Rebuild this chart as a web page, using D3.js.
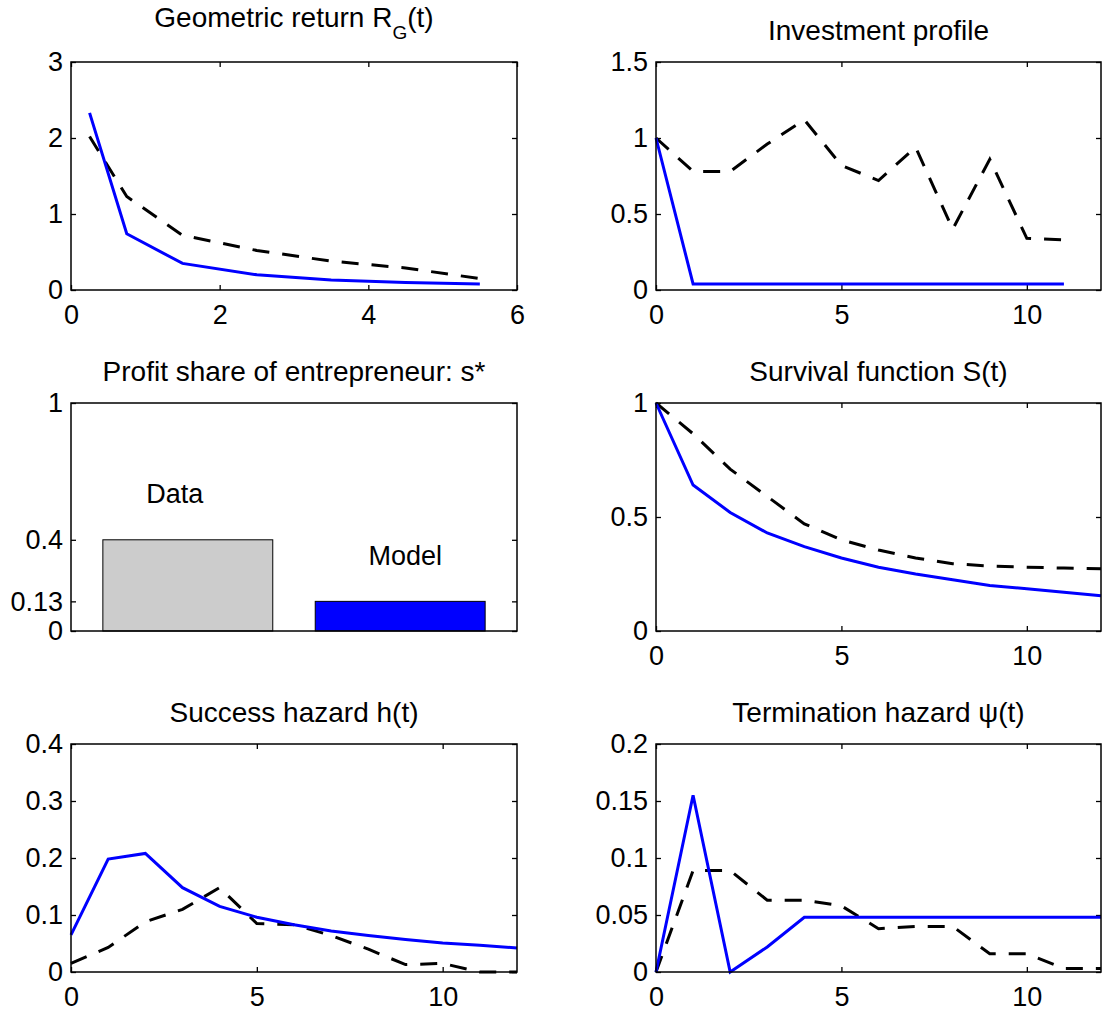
<!DOCTYPE html>
<html>
<head>
<meta charset="utf-8">
<script src="https://cdn.jsdelivr.net/npm/d3@7"></script>
<style>
  body { margin: 0; background: #fff; }
  svg text { font-family: "Liberation Sans", Arial, Helvetica, sans-serif; fill: #000; }
</style>
</head>
<body>
<svg id="chart" width="1105" height="1015"></svg>
<script>
// ---- data ----
const geoT = [0.25, 0.75, 1.5, 2.5, 3.5, 4.5, 5.5];
const geoModel = [2.33, 0.74, 0.35, 0.2, 0.13, 0.1, 0.08];
const geoData = [2.02, 1.23, 0.72, 0.52, 0.38, 0.29, 0.15];

const investT = [0, 1, 2, 3, 4, 5, 6, 7, 8, 9, 10, 11];
const investModel = [1, 0.04, 0.04, 0.04, 0.04, 0.04, 0.04, 0.04, 0.04, 0.04, 0.04, 0.04];
const investData = [1, 0.78, 0.78, 0.96, 1.12, 0.82, 0.72, 0.94, 0.4, 0.86, 0.34, 0.33];

const shareLabels = ["Data", "Model"];
const shareValues = [0.4, 0.13];

const years = [0, 1, 2, 3, 4, 5, 6, 7, 8, 9, 10, 11, 12];
const survModel = [1, 0.64, 0.52, 0.43, 0.37, 0.32, 0.28, 0.25, 0.225, 0.2, 0.185, 0.17, 0.155];
const survData = [1, 0.865, 0.71, 0.59, 0.47, 0.4, 0.355, 0.32, 0.295, 0.285, 0.28, 0.276, 0.273];

const successModel = [0.065, 0.198, 0.208, 0.148, 0.115, 0.096, 0.083, 0.072, 0.064, 0.057, 0.051, 0.047, 0.042];
const successData = [0.015, 0.043, 0.088, 0.11, 0.148, 0.085, 0.083, 0.064, 0.04, 0.013, 0.015, 0, 0];

const termModel = [0, 0.155, 0, 0.022, 0.048, 0.048, 0.048, 0.048, 0.048, 0.048, 0.048, 0.048, 0.048];
const termData = [0, 0.089, 0.089, 0.063, 0.063, 0.058, 0.038, 0.04, 0.04, 0.016, 0.016, 0.003, 0.003];

// ---- layout ----
const svg = d3.select("#chart");
const colX = [71, 656];
const colW = [446, 445];
const rowY = [62, 403, 744];
const plotH = 228;
const tick = 5;
const tickFont = 27;
const titleFont = 28;

svg.append("rect").attr("width", 1105).attr("height", 1015).attr("fill", "#fff");

function makePanel(col, row, opts) {
  const w = colW[col], h = plotH;
  const g = svg.append("g").attr("transform", "translate(" + colX[col] + "," + rowY[row] + ")");
  const x = d3.scaleLinear().domain(opts.xDomain).range([0, w]);
  const y = d3.scaleLinear().domain(opts.yDomain).range([h, 0]);

  // y ticks left (labels) and right (marks only)
  const yl = g.append("g").call(
    d3.axisLeft(y).tickValues(opts.yTicks).tickSize(-tick).tickSizeOuter(0).tickPadding(8)
      .tickFormat((d) => String(d))
  );
  const yr = g.append("g").attr("transform", "translate(" + w + ",0)").call(
    d3.axisRight(y).tickValues(opts.yTicks).tickSize(-tick).tickSizeOuter(0).tickFormat("")
  );
  const axes = [yl, yr];

  if (opts.xTicks) {
    const xb = g.append("g").attr("transform", "translate(0," + h + ")").call(
      d3.axisBottom(x).tickValues(opts.xTicks).tickSize(-tick).tickSizeOuter(0).tickPadding(15)
        .tickFormat((d) => String(d))
    );
    const xt = g.append("g").call(
      d3.axisTop(x).tickValues(opts.xTicks).tickSize(-tick).tickSizeOuter(0).tickFormat("")
    );
    axes.push(xb, xt);
  }
  axes.forEach((a) => {
    a.select(".domain").remove();
    a.selectAll(".tick line").attr("stroke", "#000").attr("stroke-width", 1.3);
    a.selectAll("text").attr("font-size", tickFont).attr("fill", "#000")
      .attr("font-family", '"Liberation Sans", Arial, sans-serif');
  });

  // title
  const t = g.append("text")
    .attr("x", w / 2)
    .attr("y", opts.sub ? -35 : -22)
    .attr("text-anchor", "middle")
    .attr("font-size", titleFont);
  t.append("tspan").text(opts.title);
  if (opts.sub) {
    t.append("tspan").attr("font-size", 19).attr("dy", 12).text(opts.sub);
    t.append("tspan").attr("dy", -12).text(opts.after);
  }

  return { g, x, y, w, h };
}

function drawLine(p, xs, ys, dashed) {
  const line = d3.line().x((d) => p.x(d[0])).y((d) => p.y(d[1]));
  p.g.append("path")
    .datum(xs.map((v, i) => [v, ys[i]]))
    .attr("d", line)
    .attr("fill", "none")
    .attr("stroke", dashed ? "#000" : "#0000ff")
    .attr("stroke-width", 3)
    .attr("stroke-dasharray", dashed ? "17,13" : null);
}

function drawBox(p) {
  p.g.append("rect")
    .attr("width", p.w).attr("height", p.h)
    .attr("fill", "none").attr("stroke", "#000").attr("stroke-width", 1.5);
}

// Geometric return
let p = makePanel(0, 0, {
  xDomain: [0, 6], yDomain: [0, 3], xTicks: [0, 2, 4, 6], yTicks: [0, 1, 2, 3],
  title: "Geometric return R", sub: "G", after: "(t)"
});
drawLine(p, geoT, geoData, true);
drawLine(p, geoT, geoModel, false);
drawBox(p);

// Investment profile
p = makePanel(1, 0, {
  xDomain: [0, 12], yDomain: [0, 1.5], xTicks: [0, 5, 10], yTicks: [0, 0.5, 1, 1.5],
  title: "Investment profile"
});
drawLine(p, investT, investData, true);
drawLine(p, investT, investModel, false);
drawBox(p);

// Profit share (bars)
p = makePanel(0, 1, {
  xDomain: [0.45, 2.55], yDomain: [0, 1], xTicks: null, yTicks: [0, 0.13, 0.4, 1],
  title: "Profit share of entrepreneur: s*"
});
const barFill = ["#cccccc", "#0000ff"];
const barW = 0.8;
p.g.selectAll("rect.bar")
  .data(shareValues)
  .enter()
  .append("rect")
  .attr("class", "bar")
  .attr("x", (d, i) => p.x(i + 1 - barW / 2))
  .attr("width", p.x(barW) - p.x(0))
  .attr("y", (d) => p.y(d))
  .attr("height", (d) => p.y(0) - p.y(d))
  .attr("fill", (d, i) => barFill[i])
  .attr("stroke", "#000")
  .attr("stroke-width", 1);
p.g.selectAll("text.barlabel")
  .data(shareValues)
  .enter()
  .append("text")
  .attr("class", "barlabel")
  .attr("x", (d, i) => p.x(i + 1) + (i === 0 ? -13 : 5))
  .attr("y", (d) => p.y(d + 0.16))
  .attr("text-anchor", "middle")
  .attr("font-size", tickFont)
  .text((d, i) => shareLabels[i]);
drawBox(p);

// Survival function
p = makePanel(1, 1, {
  xDomain: [0, 12], yDomain: [0, 1], xTicks: [0, 5, 10], yTicks: [0, 0.5, 1],
  title: "Survival function S(t)"
});
drawLine(p, years, survData, true);
drawLine(p, years, survModel, false);
drawBox(p);

// Success hazard
p = makePanel(0, 2, {
  xDomain: [0, 12], yDomain: [0, 0.4], xTicks: [0, 5, 10], yTicks: [0, 0.1, 0.2, 0.3, 0.4],
  title: "Success hazard h(t)"
});
drawLine(p, years, successData, true);
drawLine(p, years, successModel, false);
drawBox(p);

// Termination hazard
p = makePanel(1, 2, {
  xDomain: [0, 12], yDomain: [0, 0.2], xTicks: [0, 5, 10], yTicks: [0, 0.05, 0.1, 0.15, 0.2],
  title: "Termination hazard \u03c8(t)"
});
drawLine(p, years, termData, true);
drawLine(p, years, termModel, false);
drawBox(p);
</script>
</body>
</html>
